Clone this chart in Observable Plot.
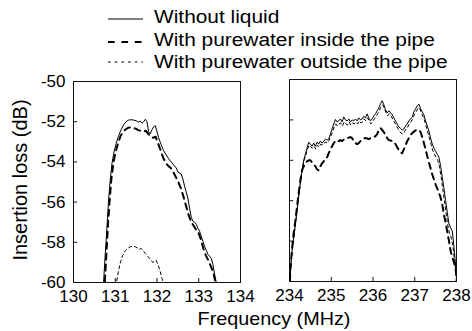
<!DOCTYPE html>
<html><head><meta charset="utf-8">
<script src="https://cdn.jsdelivr.net/npm/d3@7"></script>
<script src="https://cdn.jsdelivr.net/npm/@observablehq/plot@0.6"></script>
<style>
body{margin:0;background:#fff;}
#chart{position:relative;width:472px;height:331px;font-family:Arial,"Liberation Sans",sans-serif;}
#chart svg{position:absolute;top:0;overflow:visible;}
</style>
</head><body>
<div id="chart"></div>
<script>
// ---- data: [frequency MHz, insertion loss dB]
const leftWithout = [[130.70,-60.5],[130.72,-60],[130.76,-58.6],[130.80,-57.3],[130.84,-55.9],[130.88,-54.9],[130.92,-54.1],[130.97,-53.5],[131.02,-53.1],[131.08,-52.7],[131.14,-52.4],[131.20,-52.15],[131.26,-52.0],[131.32,-51.92],[131.38,-51.9],[131.44,-51.92],[131.50,-51.95],[131.55,-52.02],[131.60,-51.97],[131.64,-52.08],[131.68,-52.0],[131.72,-51.88],[131.76,-52.0],[131.80,-52.5],[131.84,-52.6],[131.88,-52.4],[131.92,-52.25],[131.96,-52.2],[132.00,-52.5],[132.04,-52.8],[132.10,-53.15],[132.16,-53.45],[132.22,-53.65],[132.28,-53.85],[132.34,-54.0],[132.40,-54.15],[132.46,-54.3],[132.50,-54.5],[132.54,-54.55],[132.58,-54.6],[132.62,-54.85],[132.66,-55.2],[132.70,-55.5],[132.74,-55.8],[132.78,-56.3],[132.82,-56.75],[132.86,-56.95],[132.90,-57.0],[132.94,-57.1],[132.98,-57.3],[133.02,-57.45],[133.06,-57.7],[133.10,-57.95],[133.14,-58.2],[133.18,-58.4],[133.22,-58.6],[133.26,-58.7],[133.30,-58.8],[133.34,-59.1],[133.38,-59.6],[133.42,-60],[133.44,-60.5]];
const leftInside = [[130.73,-60.5],[130.75,-60],[130.79,-58.5],[130.83,-57.0],[130.87,-55.8],[130.91,-54.8],[130.96,-54.0],[131.01,-53.5],[131.07,-53.05],[131.13,-52.7],[131.19,-52.5],[131.25,-52.38],[131.31,-52.3],[131.37,-52.28],[131.43,-52.3],[131.49,-52.35],[131.55,-52.42],[131.61,-52.45],[131.67,-52.5],[131.73,-52.45],[131.79,-52.6],[131.85,-52.75],[131.91,-52.8],[131.97,-52.75],[132.03,-53.1],[132.09,-53.45],[132.15,-53.8],[132.21,-54.05],[132.27,-54.2],[132.33,-54.3],[132.39,-54.5],[132.45,-54.75],[132.51,-55.0],[132.57,-55.3],[132.63,-55.7],[132.69,-56.15],[132.75,-56.6],[132.81,-56.95],[132.87,-57.15],[132.93,-57.35],[132.99,-57.5],[133.05,-57.85],[133.11,-58.3],[133.17,-58.65],[133.23,-58.9],[133.29,-59.2],[133.35,-59.5],[133.40,-60],[133.42,-60.5]];
const leftOutside = [[131.00,-60.5],[131.03,-60],[131.08,-59.4],[131.13,-58.95],[131.18,-58.65],[131.24,-58.42],[131.30,-58.3],[131.36,-58.22],[131.42,-58.2],[131.48,-58.22],[131.54,-58.3],[131.58,-58.35],[131.62,-58.3],[131.66,-58.4],[131.72,-58.55],[131.78,-58.7],[131.84,-58.85],[131.90,-59.0],[131.94,-58.95],[131.98,-58.9],[132.02,-59.1],[132.07,-59.4],[132.12,-59.8],[132.15,-60],[132.17,-60.5]];
const rightWithout = [[234.00,-60.5],[234.02,-59.5],[234.06,-58.5],[234.10,-57.8],[234.14,-57.2],[234.18,-56.5],[234.22,-55.8],[234.26,-55.1],[234.30,-54.5],[234.34,-54.0],[234.38,-53.7],[234.42,-53.4],[234.46,-53.1],[234.50,-53.2],[234.54,-53.3],[234.58,-53.15],[234.62,-53.3],[234.66,-53.1],[234.70,-53.2],[234.74,-53.05],[234.78,-53.15],[234.82,-53.05],[234.86,-52.95],[234.90,-53.0],[234.94,-52.95],[234.98,-52.7],[235.02,-52.45],[235.06,-52.2],[235.10,-51.98],[235.14,-52.1],[235.18,-52.05],[235.22,-51.95],[235.26,-52.1],[235.30,-51.85],[235.34,-52.0],[235.38,-52.05],[235.42,-51.95],[235.46,-52.1],[235.50,-52.0],[235.54,-52.05],[235.58,-51.95],[235.62,-52.05],[235.66,-51.9],[235.70,-52.0],[235.74,-51.95],[235.78,-51.82],[235.82,-51.9],[235.86,-51.7],[235.90,-51.9],[235.94,-52.05],[235.98,-51.95],[236.02,-51.8],[236.06,-51.7],[236.10,-51.55],[236.14,-51.4],[236.18,-51.2],[236.22,-51.05],[236.26,-51.25],[236.30,-51.5],[236.34,-51.65],[236.38,-51.55],[236.42,-51.65],[236.46,-51.75],[236.50,-51.9],[236.54,-52.05],[236.58,-52.2],[236.62,-52.35],[236.66,-52.42],[236.70,-52.5],[236.74,-52.45],[236.78,-52.3],[236.82,-52.2],[236.86,-52.05],[236.90,-51.95],[236.94,-51.85],[236.98,-51.6],[237.02,-51.45],[237.06,-51.3],[237.10,-51.22],[237.14,-51.45],[237.18,-51.6],[237.22,-51.75],[237.26,-52.05],[237.30,-52.3],[237.34,-52.55],[237.38,-52.9],[237.42,-53.2],[237.46,-53.4],[237.50,-53.55],[237.54,-53.7],[237.58,-53.85],[237.62,-54.3],[237.66,-54.85],[237.70,-55.4],[237.74,-56.0],[237.78,-56.6],[237.82,-57.15],[237.86,-57.35],[237.90,-57.5],[237.94,-58.3],[237.97,-59.0],[238.00,-59.7],[238.02,-60.5]];
const rightOutside = [[234.00,-60.5],[234.03,-59.3],[234.07,-58.4],[234.11,-57.7],[234.15,-57.0],[234.19,-56.3],[234.23,-55.6],[234.27,-55.0],[234.31,-54.4],[234.35,-54.0],[234.39,-53.75],[234.43,-53.45],[234.47,-53.25],[234.51,-53.35],[234.55,-53.4],[234.59,-53.3],[234.63,-53.45],[234.67,-53.25],[234.71,-53.35],[234.75,-53.2],[234.79,-53.25],[234.83,-53.15],[234.87,-53.1],[234.91,-53.15],[234.95,-53.0],[234.99,-52.8],[235.03,-52.6],[235.07,-52.35],[235.11,-52.2],[235.15,-52.3],[235.19,-52.2],[235.23,-52.15],[235.27,-52.3],[235.31,-52.1],[235.35,-52.2],[235.39,-52.25],[235.43,-52.1],[235.47,-52.25],[235.51,-52.15],[235.55,-52.2],[235.59,-52.1],[235.63,-52.2],[235.67,-52.05],[235.71,-52.15],[235.75,-52.1],[235.79,-51.95],[235.83,-52.05],[235.87,-51.9],[235.91,-52.05],[235.95,-52.2],[235.99,-52.1],[236.03,-51.95],[236.07,-51.85],[236.11,-51.7],[236.15,-51.55],[236.19,-51.35],[236.23,-51.25],[236.27,-51.4],[236.31,-51.65],[236.35,-51.8],[236.39,-51.7],[236.43,-51.8],[236.47,-51.95],[236.51,-52.1],[236.55,-52.25],[236.59,-52.4],[236.63,-52.55],[236.67,-52.65],[236.71,-52.7],[236.75,-52.6],[236.79,-52.45],[236.83,-52.35],[236.87,-52.2],[236.91,-52.1],[236.95,-51.95],[236.99,-51.75],[237.03,-51.6],[237.07,-51.45],[237.11,-51.4],[237.15,-51.6],[237.19,-51.8],[237.23,-52.0],[237.27,-52.3],[237.31,-52.6],[237.35,-52.9],[237.39,-53.2],[237.43,-53.5],[237.47,-53.7],[237.51,-53.85],[237.55,-54.0],[237.59,-54.3],[237.63,-54.8],[237.67,-55.4],[237.71,-56.0],[237.75,-56.6],[237.79,-57.2],[237.83,-57.6],[237.87,-57.8],[237.91,-58.2],[237.95,-58.9],[237.99,-59.6],[238.01,-60.5]];
const rightInside = [[234.00,-60.5],[234.02,-59.4],[234.06,-58.4],[234.10,-57.6],[234.14,-57.0],[234.18,-56.3],[234.22,-55.6],[234.26,-55.0],[234.30,-54.5],[234.34,-54.3],[234.38,-54.15],[234.42,-54.05],[234.46,-54.0],[234.50,-54.0],[234.54,-54.1],[234.58,-54.2],[234.62,-54.3],[234.66,-54.45],[234.70,-54.5],[234.74,-54.3],[234.78,-54.15],[234.82,-54.05],[234.86,-53.95],[234.90,-53.85],[234.94,-53.65],[234.98,-53.45],[235.02,-53.3],[235.06,-53.15],[235.10,-53.05],[235.14,-53.0],[235.18,-53.05],[235.22,-53.0],[235.26,-53.05],[235.30,-52.98],[235.34,-52.95],[235.38,-52.9],[235.42,-52.88],[235.46,-52.85],[235.50,-52.9],[235.54,-53.05],[235.58,-53.15],[235.62,-53.2],[235.66,-53.15],[235.70,-53.05],[235.74,-52.98],[235.78,-52.92],[235.82,-52.9],[235.86,-52.92],[235.90,-52.95],[235.94,-52.9],[235.98,-52.88],[236.02,-52.85],[236.06,-52.8],[236.10,-52.7],[236.14,-52.5],[236.18,-52.4],[236.22,-52.5],[236.26,-52.6],[236.30,-52.75],[236.34,-52.9],[236.38,-53.0],[236.42,-53.02],[236.46,-53.05],[236.50,-53.1],[236.54,-53.2],[236.58,-53.35],[236.62,-53.5],[236.66,-53.6],[236.70,-53.65],[236.74,-53.45],[236.78,-53.25],[236.82,-53.05],[236.86,-52.9],[236.90,-52.75],[236.94,-52.65],[236.98,-52.58],[237.02,-52.52],[237.06,-52.48],[237.10,-52.5],[237.14,-52.6],[237.18,-52.85],[237.22,-53.15],[237.26,-53.45],[237.30,-53.8],[237.34,-54.1],[237.38,-54.4],[237.42,-54.7],[237.46,-54.95],[237.50,-55.2],[237.54,-55.4],[237.58,-55.6],[237.62,-55.85],[237.66,-56.2],[237.70,-56.7],[237.74,-57.1],[237.78,-57.55],[237.82,-58.0],[237.86,-58.5],[237.90,-58.8],[237.94,-59.05],[237.98,-59.4],[238.00,-59.8],[238.02,-60.5]];

const leftXTicks = [130, 131, 132, 133, 134];
const rightXTicks = [234, 235, 236, 237, 238];
const yTicks = [-60, -58, -56, -54, -52, -50];
const yDomain = [-60, -50];
const legendLabels = ["Without liquid", "With purewater inside the pipe", "With purewater outside the pipe"];
const xTitle = "Frequency (MHz)";
const yTitle = "Insertion loss (dB)";

const styles = [
  {stroke: "#000", strokeWidth: 1, strokeDasharray: null},
  {stroke: "#000", strokeWidth: 2, strokeDasharray: "6,5"},
  {stroke: "#000", strokeWidth: 1, strokeDasharray: "3,3"}
];
const font = "Arial, 'Liberation Sans', sans-serif";
const fx = d => d[0], fy = d => d[1];

function panel(series, xDomain, xTicks, opts) {
  const x0 = xDomain[0];
  const tickW = (xDomain[1] - xDomain[0]) * 0.025;
  const marks = [
    Plot.frame({stroke: "#111", strokeWidth: 1}),
    Plot.axisX(xTicks, {tickSize: 0, tickPadding: 7, fontSize: 17, tickFormat: d => String(d), label: null}),
    Plot.ruleX(xTicks, {x: d => d, y1: yDomain[0], y2: yDomain[0] + 0.2, stroke: "#111"}),
    Plot.ruleY(yTicks, {y: d => d, x1: x0, x2: x0 + tickW, stroke: "#111"})
  ];
  if (opts.yLabels) marks.push(Plot.axisY(yTicks, {tickSize: 0, tickPadding: 8, fontSize: 17, tickFormat: d => String(d), label: null}));
  series.forEach((s, i) => marks.push(Plot.line(s, {x: fx, y: fy, clip: true, fill: "none", ...styles[i]})));
  return Plot.plot({
    width: opts.width, height: 331,
    marginLeft: opts.ml, marginRight: opts.mr, marginTop: opts.mt, marginBottom: opts.mb,
    x: {domain: xDomain, label: null},
    y: {domain: yDomain, label: null, axis: opts.yLabels ? undefined : null},
    style: {background: "transparent", fontFamily: font, color: "#000", overflow: "visible"},
    marks
  });
}

const chart = document.getElementById("chart");
const left = panel([leftWithout, leftInside, leftOutside], [130, 134], leftXTicks, {width: 250, ml: 73, mr: 10, mt: 81, mb: 49, yLabels: true});
left.style.left = "0px";
chart.appendChild(left);
const right = panel([rightWithout, rightInside, rightOutside], [234, 238], rightXTicks, {width: 222, ml: 39, mr: 16, mt: 79, mb: 50, yLabels: false});
right.style.left = "250px";
chart.appendChild(right);

// overlay: legend and axis titles
const ov = d3.select(chart).append("svg").attr("width", 472).attr("height", 331).style("left", "0px")
  .attr("font-family", font);
const rowsY = [19, 42, 62];
const textY = [22.5, 45.5, 68];
legendLabels.forEach((lab, i) => {
  ov.append("line").attr("x1", 108).attr("x2", 143).attr("y1", rowsY[i]).attr("y2", rowsY[i])
    .attr("stroke", styles[i].stroke).attr("stroke-width", styles[i].strokeWidth)
    .attr("stroke-dasharray", i === 1 ? "6.7,6.7" : (i === 2 ? "2.7,4" : null));
  ov.append("text").attr("transform", `translate(154,${textY[i]}) scale(1.16,1)`)
    .attr("font-size", 18).attr("fill", "#000").text(lab);
});
ov.append("text").attr("transform", "translate(274,325) scale(1.1,1)").attr("text-anchor", "middle")
  .attr("font-size", 18).attr("fill", "#000").text(xTitle);
ov.append("text").attr("transform", "translate(27,180) rotate(-90)").attr("text-anchor", "middle")
  .attr("font-size", 20).attr("fill", "#000").text(yTitle);
</script>
</body></html>
